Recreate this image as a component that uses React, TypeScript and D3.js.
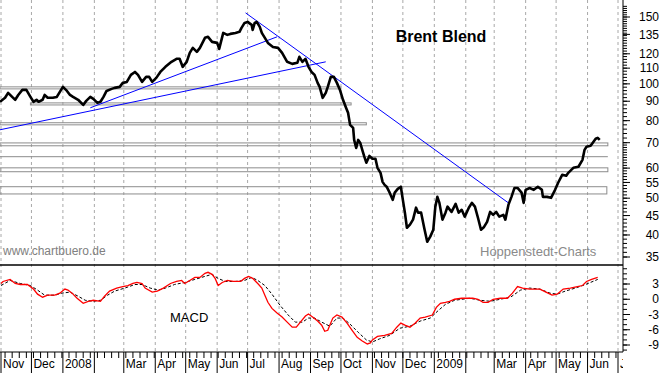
import * as d3 from 'd3'

const W = 663
const H = 373

// Brent price, days counted from 1 Nov 2007
const priceDays = [
  -1, 4, 7, 11, 14, 17, 21, 25, 29, 32, 35, 37, 41, 43, 46, 51, 55, 58, 61, 65, 68, 71, 76, 81, 84, 88, 91, 95, 98,
  101, 104, 109, 112, 117, 120, 124, 128, 132, 135, 139, 143, 146, 149, 153, 157, 162, 168, 173, 176, 179, 183, 186,
  189, 193, 196, 201, 204, 208, 213, 215, 218, 219, 223, 226, 231, 235, 237, 240, 243, 247, 248, 250, 252, 255, 257,
  260, 263, 268, 273, 277, 282, 287, 292, 294, 297, 300, 303, 306, 309, 312, 314, 317, 320, 322, 325, 328, 331, 334,
  337, 340, 342, 344, 347, 348, 350, 352, 354, 356, 358, 360, 363, 366, 369, 371, 374, 376, 378, 380, 383, 386, 388,
  391, 394, 396, 398, 400, 403, 406, 409, 411, 414, 417, 420, 423, 426, 428, 430, 432, 435, 438, 440, 444, 448, 451,
  454, 457, 461, 464, 467, 470, 473, 476, 479, 482, 485, 488, 491, 495, 497, 500, 503, 506, 509, 513, 515, 517, 521,
  525, 529, 533, 534, 538, 542, 546, 549, 553, 557, 559, 564, 569, 573, 575, 577, 581, 583, 586, 588, 590,
]
const priceValues = [
  89.7, 91.9, 94.7, 92.4, 90.8, 93.5, 96.4, 96.4, 92.4, 89.7, 90.8, 89.7, 90.8, 93.5, 91.9, 91.9, 92.4, 95.3, 98.2,
  95.8, 93.5, 92.4, 90.8, 88.0, 90.2, 92.4, 91.3, 89.1, 89.7, 92.4, 95.8, 97.0, 97.6, 98.2, 100.6, 101.2, 105.6, 107.5,
  105.6, 101.2, 104.3, 104.3, 101.2, 103.7, 107.5, 110.9, 114.3, 116.4, 116.4, 110.9, 114.3, 120.7, 124.4, 121.4,
  124.4, 132.2, 133.0, 129.0, 128.2, 123.6, 133.0, 136.2, 134.6, 135.4, 136.2, 137.1, 140.4, 144.7, 145.6, 143.0,
  138.7, 144.7, 145.6, 141.3, 136.2, 132.2, 128.2, 125.1, 124.4, 120.7, 114.3, 112.9, 113.6, 117.8, 114.3, 116.4,
  110.9, 107.5, 105.6, 100.6, 98.2, 91.9, 94.7, 98.2, 104.3, 104.3, 100.6, 96.4, 90.8, 86.5, 83.9, 78.0, 76.6, 71.2,
  67.8, 71.2, 69.9, 67.0, 64.3, 62.0, 64.6, 63.5, 63.5, 60.1, 58.3, 55.2, 54.2, 53.6, 51.7, 49.5, 51.7, 52.9, 53.6,
  49.5, 45.8, 41.8, 42.6, 43.9, 47.2, 45.8, 45.8, 41.8, 38.4, 39.6, 41.3, 47.5, 50.4, 48.6, 43.9, 45.8, 47.5, 46.0,
  48.3, 45.8, 46.6, 44.7, 47.2, 48.6, 47.5, 44.4, 41.3, 42.0, 43.3, 46.0, 45.2, 46.0, 44.7, 45.2, 43.9, 48.0, 50.4,
  53.2, 53.2, 51.7, 48.6, 52.6, 53.2, 52.6, 53.6, 52.6, 50.4, 50.4, 50.1, 52.6, 54.9, 57.6, 57.3, 58.3, 60.1, 60.5,
  63.1, 67.0, 68.3, 68.7, 69.9, 71.7, 72.1, 71.2,
]

// MACD line (red) and signal line (black dashed)
const macdDays = [
  0, 2, 9, 14, 19, 26, 32, 36, 41, 46, 53, 58, 63, 66, 70, 75, 81, 86, 91, 98, 102, 107, 114, 120, 125, 130, 134, 139,
  142, 149, 154, 160, 167, 173, 178, 181, 186, 191, 196, 201, 204, 208, 211, 214, 218, 223, 229, 236, 240, 244, 248,
  253, 257, 260, 263, 267, 272, 277, 282, 287, 291, 295, 300, 303, 307, 312, 316, 319, 322, 324, 327, 331, 336, 341,
  346, 351, 356, 361, 364, 366, 371, 378, 385, 390, 394, 398, 403, 408, 413, 418, 425, 429, 433, 438, 442, 447, 454,
  460, 465, 470, 475, 480, 485, 492, 499, 504, 507, 509, 514, 521, 531, 537, 543, 548, 554, 561, 568, 573, 577, 582,
  588,
]
const macdValues = [
  3.1, 3.5, 3.9, 3.1, 2.9, 2.9, 2.0, 1.0, 0.4, 0.8, 0.8, 1.2, 2.0, 1.8, 1.2, 0.2, -0.8, -0.4, -0.2, -0.4, 0.6, 1.6,
  2.2, 2.5, 2.7, 3.1, 3.3, 3.1, 2.2, 1.4, 1.6, 2.2, 3.1, 3.5, 3.7, 3.1, 3.7, 4.3, 4.3, 5.1, 5.3, 4.9, 4.1, 2.7, 3.3,
  3.7, 3.5, 3.5, 4.1, 4.5, 4.1, 3.1, 2.2, 0.8, -0.6, -1.8, -2.7, -3.5, -4.5, -5.5, -5.5, -4.5, -3.3, -2.9, -3.5,
  -4.3, -5.1, -6.3, -6.1, -5.1, -3.7, -3.1, -3.5, -4.7, -6.1, -7.5, -8.2, -8.8, -8.6, -8.0, -7.3, -7.1, -6.7, -5.5,
  -4.7, -5.1, -5.5, -4.7, -3.7, -3.5, -3.1, -1.6, -0.8, -0.6, -0.4, 0, 0.2, 0.2, 0.2, 0, -0.6, -0.6, 0, 0.2, 0.2, 1.2,
  2.0, 2.5, 2.2, 2.0, 2.0, 1.4, 0.8, 1.0, 2.0, 2.2, 2.5, 2.7, 3.5, 3.9, 4.3,
]
const signalDays = [
  0, 9, 19, 29, 36, 43, 53, 60, 68, 76, 83, 91, 98, 105, 112, 122, 132, 139, 147, 155, 162, 171, 181, 191, 201, 208,
  214, 221, 231, 240, 247, 253, 260, 267, 275, 283, 290, 297, 303, 309, 316, 324, 331, 337, 344, 352, 360, 366, 373,
  383, 393, 403, 413, 423, 431, 438, 447, 462, 472, 482, 492, 502, 512, 521, 531, 541, 548, 556, 566, 576, 588,
]
const signalValues = [
  2.7, 3.7, 3.1, 2.7, 1.8, 0.8, 0.8, 1.2, 1.4, 0.6, -0.2, -0.4, -0.2, 0.8, 1.6, 2.2, 2.9, 2.9, 2.2, 1.8, 2.2, 2.9,
  3.3, 3.9, 4.5, 4.9, 4.1, 3.5, 3.5, 3.7, 4.3, 3.7, 2.7, 1.0, -1.2, -3.1, -4.5, -4.5, -3.7, -3.7, -4.5, -5.3, -3.7,
  -3.7, -4.9, -6.5, -8.0, -8.4, -7.8, -7.1, -5.7, -5.3, -4.3, -3.7, -2.2, -1.0, -0.2, 0.2, -0.2, -0.4, 0, 0.4, 1.8,
  2.2, 2.0, 1.2, 1.0, 1.6, 2.2, 2.9, 3.9,
]

// one label per month, Nov 2007 .. Jul 2009
const monthLabels = ['Nov', 'Dec', '2008', '', 'Mar', 'Apr', 'May', 'Jun', 'Jul', 'Aug', 'Sep', 'Oct', 'Nov', 'Dec', '2009', '', 'Mar', 'Apr', 'May', 'Jun', 'Jul']
const priceTicks = [150, 135, 120, 110, 100, 90, 80, 70, 60, 55, 50, 45, 40, 35]
const macdTicks = [3, 0, -3, -6, -9]

// support / resistance bands
const bandTop = [98.2, 89.1, 79.0, 69.9, 64.3, 60.1, 53.6]
const bandBottom = [97.0, 88.0, 78.0, 68.7, 64.3, 58.7, 51.3]
const bandStart = [-1, 29, -1, -1, -1, -1, -1]
const bandEnd = [335, 345, 360, 598, 598, 598, 597]

// trend lines
const trendStartDay = [-1, 88, 241]
const trendStartValue = [75.7, 86.5, 153.8]
const trendEndDay = [320, 272, 500]
const trendEndValue = [114.3, 133.0, 48.6]

const day = (d: number) => new Date(2007, 10, 1 + d)

const FONT = 'Liberation Sans, Arial, sans-serif'

export default function App() {
  const plotRight = 623
  const split = 265
  const axisY = 352

  const x = d3.scaleTime().domain([new Date(2007, 10, 1), new Date(2009, 6, 1)]).range([1, 618])
  const yP = d3.scaleLog().domain([35, 150]).range([257, 17])
  const yM = d3.scaleLinear().domain([-9, 3]).range([345, 284])

  const months = d3.timeMonth.range(new Date(2007, 10, 1), new Date(2009, 6, 2))
  const weeks = d3.timeMonday.range(new Date(2007, 10, 1), new Date(2009, 6, 1))

  const priceLine = d3.line<number>()
    .x((d, i) => x(day(priceDays[i])))
    .y(d => yP(d))
  const macdLine = d3.line<number>()
    .x((d, i) => x(day(macdDays[i])))
    .y(d => yM(d))
  const signalLine = d3.line<number>()
    .x((d, i) => x(day(signalDays[i])))
    .y(d => yM(d))

  // minor ticks on the right axis
  const priceMinor = [...d3.range(35, 70, 1), ...d3.range(70, 100, 2), ...d3.range(100, 162, 2)]
  const macdMinor = d3.range(-10, 7, 1)

  return (
    <svg width={W} height={H} style={{ position: 'absolute', left: 0, top: 0, background: '#fff' }} fontFamily={FONT}>
      <defs>
        <clipPath id="plotClip">
          <rect x={0} y={0} width={plotRight} height={H} />
        </clipPath>
      </defs>
      <rect width={W} height={H} fill="#fff" />

      {/* month grid */}
      {months.map((m, i) => (
        <line key={'g' + i} x1={x(m)} x2={x(m)} y1={0} y2={axisY} stroke="#a8a8a8" strokeDasharray="3,3" />
      ))}

      {/* bands */}
      {bandTop.map((t, i) => {
        const y1 = yP(t)
        const y2 = yP(bandBottom[i])
        const x1 = x(day(bandStart[i]))
        const x2 = x(day(bandEnd[i]))
        return y2 - y1 < 1 ? (
          <line key={'b' + i} x1={x1} x2={x2} y1={y1} y2={y1} stroke="#8c8c8c" />
        ) : (
          <rect key={'b' + i} x={x1} y={y1} width={x2 - x1} height={y2 - y1} fill="none" stroke="#8c8c8c" />
        )
      })}

      {/* trend lines */}
      {trendStartDay.map((d, i) => (
        <line key={'t' + i}
          x1={x(day(d))} y1={yP(trendStartValue[i])}
          x2={x(day(trendEndDay[i]))} y2={yP(trendEndValue[i])}
          stroke="#0000ff" strokeWidth={1} />
      ))}

      {/* price */}
      <path d={priceLine(priceValues) || ''} fill="none" stroke="#000" strokeWidth={2.6} strokeLinejoin="round" />

      {/* MACD */}
      <path d={signalLine(signalValues) || ''} fill="none" stroke="#000" strokeWidth={1} strokeDasharray="3,2" />
      <path d={macdLine(macdValues) || ''} fill="none" stroke="#ff0000" strokeWidth={1.3} />

      {/* panel separator, frame */}
      <line x1={0} x2={plotRight} y1={split} y2={split} stroke="#000" strokeWidth={1.5} />
      <line x1={0} x2={plotRight} y1={axisY} y2={axisY} stroke="#000" />
      <line x1={plotRight} x2={plotRight} y1={0} y2={axisY} stroke="#000" />

      {/* right axis, price */}
      {priceMinor.map(v => (
        <line key={'pm' + v} x1={plotRight} x2={plotRight + 4} y1={yP(v)} y2={yP(v)} stroke="#000" />
      ))}
      {priceTicks.map(v => (
        <g key={'pt' + v}>
          <line x1={plotRight} x2={plotRight + 7} y1={yP(v)} y2={yP(v)} stroke="#000" />
          <text x={659} y={yP(v)} dy="0.35em" textAnchor="end" fontSize={12}>{v}</text>
        </g>
      ))}

      {/* right axis, MACD */}
      {macdMinor.map(v => yM(v) > split + 2 && yM(v) < axisY - 1 ? (
        <line key={'mm' + v} x1={plotRight} x2={plotRight + 4} y1={yM(v)} y2={yM(v)} stroke="#000" />
      ) : null)}
      {macdTicks.map(v => (
        <g key={'mt' + v}>
          <line x1={plotRight} x2={plotRight + 7} y1={yM(v)} y2={yM(v)} stroke="#000" />
          <text x={659} y={yM(v)} dy="0.35em" textAnchor="end" fontSize={12}>{v}</text>
        </g>
      ))}

      {/* bottom axis */}
      {weeks.map((w, i) => (
        <line key={'w' + i} x1={x(w)} x2={x(w)} y1={axisY} y2={axisY + 6} stroke="#000" />
      ))}
      <g clipPath="url(#plotClip)">
        {months.map((m, i) => (
          <g key={'m' + i}>
            <line x1={x(m)} x2={x(m)} y1={axisY} y2={H} stroke="#000" />
            <text x={x(m) + 2} y={368} fontSize={12}>{monthLabels[i]}</text>
          </g>
        ))}
      </g>

      {/* texts */}
      <text x={441} y={42} textAnchor="middle" fontSize={16} fontWeight="bold">Brent Blend</text>
      <text x={3} y={255} fontSize={12} fill="#808080">www.chartbuero.de</text>
      <text x={480} y={256} fontSize={13} fill="#8a8a8a">Hoppenstedt-Charts</text>
      <text x={170} y={322} fontSize={13}>MACD</text>
    </svg>
  )
}
